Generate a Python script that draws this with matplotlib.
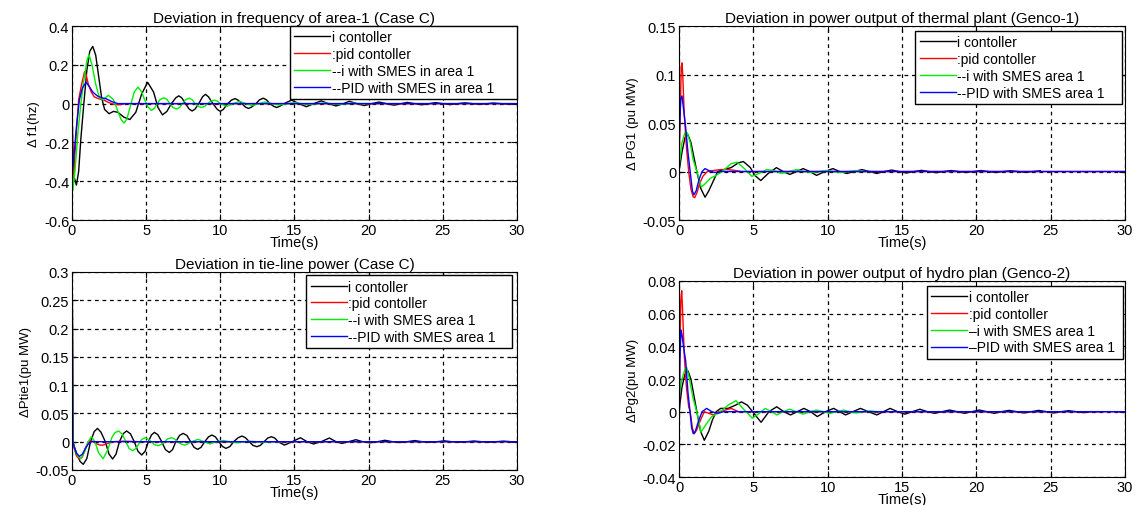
import matplotlib
matplotlib.use("Agg")
import matplotlib.pyplot as plt
from matplotlib.ticker import FormatStrFormatter

plt.rcParams['font.family'] = ['Liberation Sans', 'DejaVu Sans']

# ---- data: (time s, value) ----
# Deviation in frequency of area-1
f1_i = [(0, 0), (0.05, -0.2), (0.15, -0.38), (0.3, -0.42), (0.45, -0.35), (0.6, -0.18),
        (0.8, 0.0), (1.0, 0.17), (1.2, 0.27), (1.4, 0.295), (1.6, 0.25), (1.8, 0.14),
        (2.0, 0.03), (2.2, -0.03), (2.5, -0.052), (2.8, -0.04), (3.1, -0.045), (3.5, -0.07),
        (3.9, -0.082), (4.3, -0.045), (4.7, 0.05), (5.1, 0.11), (5.5, 0.06), (5.8, -0.02),
        (6.1, -0.058), (6.4, -0.04), (6.7, 0.0), (7.0, 0.03), (7.2, 0.04), (7.4, 0.03),
        (7.65, 0.0), (7.9, -0.028), (8.1, -0.038), (8.3, -0.028), (8.55, 0.0), (8.8, 0.035),
        (9.0, 0.048), (9.2, 0.035), (9.5, 0.0), (9.8, -0.03), (10.0, -0.04), (10.2, -0.03),
        (10.5, 0.0), (10.75, 0.018), (11.0, 0.026), (11.2, 0.018), (11.45, 0.0),
        (11.7, -0.018), (11.9, -0.025), (12.1, -0.018), (12.4, 0.0), (12.65, 0.02),
        (12.9, 0.028), (13.1, 0.02), (13.35, 0.0), (13.6, -0.014), (13.8, -0.02),
        (14.0, -0.014), (14.3, 0.0), (14.8, 0.018), (15.3, 0.0), (15.8, -0.016), (16.3, 0.0),
        (16.8, 0.014), (17.3, 0.0), (17.8, -0.012), (18.3, 0.0), (18.7, 0.012), (19.2, 0.0),
        (19.7, -0.01), (20.2, 0.0), (20.7, 0.008), (21.2, 0.0), (21.7, -0.008), (22.2, 0.0),
        (22.6, 0.006), (23.1, 0.0), (23.6, -0.006), (24.1, 0.0), (24.5, 0.005), (25.0, 0.0),
        (25.5, -0.005), (26.0, 0.0), (26.5, 0.004), (27.0, 0.0), (27.5, -0.004), (28.0, 0.0),
        (28.4, 0.003), (28.9, 0.0), (29.4, -0.003), (30, 0.0)]
f1_pid = [(0, 0), (0.08, -0.42), (0.25, -0.2), (0.45, 0.02), (0.65, 0.1), (0.85, 0.165),
          (0.95, 0.15), (1.1, 0.1), (1.3, 0.06), (1.5, 0.035), (1.8, 0.025), (2.1, 0.02),
          (2.5, 0.005), (2.9, -0.005), (3.3, -0.005), (3.6, 0.0), (30, 0.0)]
f1_i_smes = [(0, 0), (0.05, -0.45), (0.2, -0.35), (0.4, -0.15), (0.6, 0.0), (0.8, 0.12),
             (1.0, 0.22), (1.15, 0.252), (1.35, 0.2), (1.6, 0.1), (1.85, 0.03), (2.1, 0.02),
             (2.45, 0.043), (2.8, 0.02), (3.1, -0.04), (3.3, -0.08), (3.5, -0.1), (3.7, -0.08),
             (3.95, -0.01), (4.2, 0.06), (4.45, 0.085), (4.7, 0.06), (4.9, 0.02),
             (5.1, -0.015), (5.35, -0.035), (5.55, -0.025), (5.75, 0.0), (5.95, 0.022),
             (6.2, 0.03), (6.4, 0.022), (6.6, 0.0), (6.8, -0.02), (7.05, -0.028), (7.25, -0.02),
             (7.45, 0.0), (7.65, 0.02), (7.9, 0.028), (8.1, 0.02), (8.3, 0.0), (8.5, -0.014),
             (8.75, -0.02), (8.95, -0.014), (9.15, 0.0), (9.35, 0.013), (9.6, 0.018),
             (9.8, 0.013), (10.0, 0.0), (10.45, -0.014), (10.85, 0.0), (11.3, 0.012),
             (11.7, 0.0), (12.15, -0.01), (12.6, 0.0), (13.0, 0.008), (13.5, 0.0),
             (14.0, -0.007), (14.5, 0.0), (15.0, 0.005), (15.5, 0.0), (16.0, -0.004),
             (16.5, 0.0), (17.0, 0.003), (17.5, 0.0), (18.0, -0.003), (18.5, 0.0),
             (19.0, 0.002), (19.5, 0.0), (20.0, 0.0)]
f1_pid_smes = [(0, 0), (0.01, -0.36), (0.1, -0.3), (0.3, -0.12), (0.5, 0.02), (0.7, 0.08),
               (0.95, 0.11), (1.15, 0.09), (1.4, 0.06), (1.7, 0.04), (2.0, 0.03), (2.3, 0.025),
               (2.7, 0.01), (3.1, 0.0), (30, 0.0)]

# Deviation in power output of thermal plant (Genco-1)
pg1_i = [(0, 0), (0.2, 0.02), (0.4, 0.035), (0.6, 0.038), (0.8, 0.03), (1.0, 0.015), (1.2, 0.0),
         (1.45, -0.017), (1.75, -0.0265), (2.0, -0.02), (2.3, -0.01), (2.6, 0.0), (3.0, 0.002),
         (3.5, 0.004), (4.0, 0.009), (4.33, 0.0103), (4.8, 0.004), (5.1, -0.004), (5.5, -0.0093),
         (6.0, -0.002), (6.55, 0.004), (7.0, 0.0), (7.45, -0.003), (7.9, 0.0), (8.35, 0.003),
         (8.8, 0.0), (9.25, -0.004), (9.8, 0.0), (10.35, 0.003), (10.8, 0.0), (11.3, -0.002),
         (11.8, 0.0), (12.3, 0.002), (12.8, 0.0), (13.3, -0.002), (13.8, 0.0), (14.3, 0.0015),
         (14.8, 0.0), (15.3, -0.0015), (15.8, 0.0), (16.3, 0.0012), (16.8, 0.0), (17.3, -0.0012),
         (17.8, 0.0), (18.3, 0.001), (18.8, 0.0), (19.3, -0.001), (19.8, 0.0), (20.3, 0.001),
         (20.8, 0.0), (21.3, -0.001), (21.8, 0.0), (22.3, 0.0008), (22.8, 0.0), (23.3, -0.0008),
         (23.8, 0.0), (24.3, 0.0008)]
pg1_pid = [(0, 0), (0.08, 0.06), (0.15, 0.108), (0.2, 0.112), (0.25, 0.1), (0.35, 0.06),
           (0.5, 0.025), (0.65, 0.0), (0.8, -0.018), (0.95, -0.026), (1.05, -0.027),
           (1.2, -0.022), (1.4, -0.012), (1.6, -0.005), (1.9, 0.0), (2.3, 0.001), (2.8, 0.002),
           (3.3, 0.002), (3.8, 0.001), (4.2, 0.0), (30, 0.0)]
pg1_i_smes = [(0, 0.005), (0.2, 0.03), (0.4, 0.04), (0.55, 0.04), (0.75, 0.03), (0.95, 0.012),
              (1.2, 0.0), (1.5, -0.016), (1.8, -0.012), (2.1, -0.007), (2.5, -0.004),
              (2.9, 0.0), (3.2, 0.004), (3.5, 0.008), (3.9, 0.0096), (4.4, 0.003),
              (4.9, -0.005), (5.4, -0.002), (5.9, 0.002), (6.4, 0.001), (6.9, -0.002),
              (7.4, 0.0), (7.9, 0.002), (8.4, 0.0), (8.9, -0.001), (9.4, 0.0), (9.9, 0.001),
              (10.4, 0.0), (10.9, -0.001), (11.4, 0.0), (11.9, 0.001), (12.4, 0.0), (13.0, 0.0)]
pg1_pid_smes = [(0, 0.02), (0.05, 0.05), (0.12, 0.075), (0.2, 0.078), (0.3, 0.065),
                (0.45, 0.045), (0.6, 0.02), (0.75, 0.0), (0.9, -0.02), (1.0, -0.024),
                (1.15, -0.02), (1.35, -0.008), (1.55, 0.0), (1.75, 0.003), (2.0, 0.001),
                (2.4, -0.001), (2.8, 0.0), (30, 0.0)]

# Deviation in tie-line power
ptie_i = [(0, 0), (0.02, 0.27), (0.06, 0.0), (0.3, -0.02), (0.55, -0.035), (0.76, -0.04),
          (1.0, -0.03), (1.25, 0.0), (1.5, 0.018), (1.72, 0.0235), (1.95, 0.017), (2.25, 0.0),
          (2.5, -0.022), (2.74, -0.0306), (2.97, -0.022), (3.2, 0.0), (3.45, 0.014),
          (3.68, 0.019), (3.94, 0.014), (4.2, 0.0), (4.45, -0.017), (4.7, -0.0235),
          (4.93, -0.017), (5.15, 0.0), (5.36, 0.012), (5.56, 0.0165), (5.8, 0.012), (6.05, 0.0),
          (6.3, -0.014), (6.56, -0.019), (6.78, -0.014), (7.0, 0.0), (7.25, 0.011),
          (7.49, 0.0147), (7.75, 0.011), (8.0, 0.0), (8.23, -0.01), (8.47, -0.0135),
          (8.7, -0.01), (8.95, 0.0), (9.2, 0.0085), (9.43, 0.0118), (9.67, 0.0085), (9.9, 0.0),
          (10.15, -0.0085), (10.38, -0.0118), (10.65, -0.0085), (10.9, 0.0), (11.2, 0.007),
          (11.46, 0.01), (11.7, 0.007), (11.95, 0.0), (12.2, -0.0065), (12.46, -0.0088),
          (12.7, -0.0065), (12.95, 0.0), (13.2, 0.0065), (13.44, 0.0088), (13.67, 0.0065),
          (13.9, 0.0), (14.32, -0.006), (14.85, 0.0), (15.4, 0.007), (15.85, 0.0),
          (16.28, -0.004), (16.8, 0.0), (17.35, 0.0065), (17.8, 0.0), (18.19, -0.003),
          (18.65, 0.0), (19.14, 0.0035), (19.6, 0.0), (20.1, -0.002), (20.6, 0.0),
          (21.1, 0.0025), (21.6, 0.0), (22.1, -0.0015), (22.6, 0.0), (23.1, 0.002), (23.6, 0.0),
          (24.1, -0.0012), (24.6, 0.0), (25.1, 0.0015), (25.6, 0.0), (26.1, -0.001), (26.6, 0.0),
          (27.1, 0.0012), (27.6, 0.0), (28.1, -0.001), (28.6, 0.0), (29.1, 0.001), (29.6, 0.0),
          (30, 0.0)]
ptie_pid = [(0, 0), (0.02, 0.28), (0.06, 0.0), (0.15, -0.012), (0.3, -0.025), (0.5, -0.031),
            (0.7, -0.027), (0.9, -0.012), (1.1, 0.0), (1.3, 0.002), (1.6, -0.003), (1.9, -0.006),
            (2.1, -0.006), (2.4, -0.003), (2.8, 0.0), (3.5, 0.001), (4.5, 0.0), (30, 0.0)]
ptie_i_smes = [(0, 0), (0.02, 0.27), (0.06, 0.0), (0.2, -0.015), (0.4, -0.026), (0.6, -0.03),
               (0.85, -0.018), (1.1, 0.0), (1.3, 0.009), (1.55, 0.0), (1.8, -0.02), (2.1, -0.03),
               (2.4, -0.015), (2.7, 0.008), (2.9, 0.016), (3.15, 0.019), (3.4, 0.013),
               (3.6, 0.002), (3.85, -0.012), (4.1, -0.016), (4.3, -0.012), (4.5, -0.004),
               (4.7, 0.004), (4.95, 0.007), (5.15, 0.004), (5.35, 0.0), (5.55, -0.005),
               (5.8, -0.007), (6.0, -0.005), (6.25, 0.0), (6.45, 0.005), (6.7, 0.007),
               (6.9, 0.005), (7.15, 0.0), (7.35, -0.004), (7.6, -0.006), (7.8, -0.004),
               (8.05, 0.0), (8.5, 0.004), (8.9, 0.0), (9.3, -0.004), (9.75, 0.0), (10.2, 0.002),
               (10.65, 0.0), (11.1, -0.002), (11.55, 0.0), (12.0, 0.001), (12.45, 0.0),
               (12.9, -0.001), (13.4, 0.0), (14.0, 0.0)]
ptie_pid_smes = [(0, 0), (0.02, 0.285), (0.06, 0.0), (0.15, -0.01), (0.3, -0.02), (0.5, -0.026),
                 (0.7, -0.022), (0.9, -0.012), (1.1, -0.004), (1.3, 0.0), (30, 0.0)]

# Deviation in power output of hydro plan (Genco-2)
pg2_i = [(0, 0), (0.2, 0.015), (0.4, 0.023), (0.6, 0.025), (0.8, 0.02), (1.0, 0.01), (1.2, 0.0),
         (1.45, -0.012), (1.7, -0.0175), (2.0, -0.012), (2.25, -0.005), (2.5, 0.0), (2.8, 0.002),
         (3.3, 0.002), (3.8, 0.004), (4.2, 0.006), (4.6, 0.004), (4.95, 0.0), (5.52, -0.0065),
         (6.05, 0.0), (6.57, 0.003), (7.05, 0.0), (7.5, -0.002), (7.95, 0.0), (8.4, 0.002),
         (8.85, 0.0), (9.3, -0.003), (9.85, 0.0), (10.4, 0.002), (10.8, 0.0), (11.2, -0.002),
         (11.7, 0.0), (12.2, 0.002), (12.75, 0.0), (13.3, -0.002), (13.75, 0.0), (14.2, 0.002),
         (14.7, 0.0), (15.2, -0.0015), (15.7, 0.0), (16.2, 0.0015), (16.7, 0.0), (17.2, -0.001),
         (17.7, 0.0), (18.2, 0.001), (18.7, 0.0), (19.2, -0.001), (19.7, 0.0), (20.2, 0.001),
         (20.7, 0.0), (21.2, -0.001), (21.7, 0.0), (22.2, 0.0008), (22.7, 0.0), (23.2, -0.0008),
         (23.7, 0.0), (24.2, 0.0008), (24.7, 0.0), (25.2, -0.0008), (25.7, 0.0), (26.2, 0.0006),
         (26.7, 0.0), (27.2, -0.0006), (27.7, 0.0), (28.2, 0.0)]
pg2_pid = [(0, -0.033), (0.05, 0.03), (0.12, 0.068), (0.18, 0.074), (0.25, 0.06), (0.35, 0.035),
           (0.5, 0.015), (0.65, 0.003), (0.75, 0.0), (0.9, -0.01), (1.03, -0.0135),
           (1.2, -0.011), (1.45, -0.005), (1.7, 0.0), (2.0, -0.001), (2.3, -0.002), (2.7, 0.0),
           (3.1, 0.001), (3.5, 0.002), (4.0, 0.0), (30, 0.0)]
pg2_i_smes = [(0, 0.01), (0.2, 0.02), (0.4, 0.026), (0.52, 0.027), (0.7, 0.02), (0.95, 0.008),
              (1.19, 0.0), (1.48, -0.0125), (1.8, -0.008), (2.2, -0.003), (2.8, 0.0),
              (3.3, 0.004), (3.83, 0.0067), (4.4, 0.001), (4.93, -0.004), (5.4, -0.001),
              (5.8, 0.002), (6.2, 0.0), (6.6, -0.002), (7.0, 0.0), (7.45, 0.0015), (7.9, 0.0),
              (8.35, -0.0015), (8.8, 0.0), (9.25, 0.001), (9.7, 0.0), (10.15, -0.001),
              (10.6, 0.0), (11.05, 0.001), (11.5, 0.0), (11.95, -0.0008), (12.4, 0.0),
              (12.85, 0.0005), (13.3, 0.0)]
pg2_pid_smes = [(0, -0.02), (0.05, 0.03), (0.13, 0.05), (0.2, 0.047), (0.3, 0.04), (0.45, 0.031),
                (0.6, 0.012), (0.74, 0.0), (0.85, -0.01), (0.96, -0.0135), (1.1, -0.012),
                (1.3, -0.006), (1.55, 0.0), (1.86, 0.002), (2.2, 0.0), (2.6, -0.001),
                (3.0, 0.0), (30, 0.0)]

titles = ["Deviation in frequency of area-1 (Case C)",
          "Deviation in power output of thermal plant (Genco-1)",
          "Deviation in tie-line power (Case C)",
          "Deviation in power output of hydro plan (Genco-2)"]
ylabels = ["\u0394 f1(hz)", "\u0394 PG1 (pu MW)", "\u0394Ptie1(pu MW)", "\u0394Pg2(pu MW)"]
labels_a = ["i contoller", ":pid contoller", "--i with SMES in area 1", "--PID with SMES in area 1"]
labels_b = ["i contoller", ":pid contoller", "--i with SMES area 1", "--PID with SMES area 1"]
labels_c = ["i contoller", ":pid contoller", "\u2013i with SMES area 1", "\u2013PID with SMES area 1"]
yticks = [[-0.6, -0.4, -0.2, 0, 0.2, 0.4],
          [-0.05, 0, 0.05, 0.1, 0.15],
          [-0.05, 0, 0.05, 0.1, 0.15, 0.2, 0.25, 0.3],
          [-0.04, -0.02, 0, 0.02, 0.04, 0.06, 0.08]]
xticks = [0, 5, 10, 15, 20, 25, 30]
colors = ['black', 'red', '#00ee00', 'blue']

panels = [
    ([f1_i, f1_pid, f1_i_smes, f1_pid_smes], labels_a),
    ([pg1_i, pg1_pid, pg1_i_smes, pg1_pid_smes], labels_b),
    ([ptie_i, ptie_pid, ptie_i_smes, ptie_pid_smes], labels_b),
    ([pg2_i, pg2_pid, pg2_i_smes, pg2_pid_smes], labels_c),
]

# axes rectangles in figure fractions
rects = [[0.0633, 0.5632, 0.3914, 0.3834],
         [0.5972, 0.5632, 0.3923, 0.3834],
         [0.0633, 0.0692, 0.3914, 0.3913],
         [0.5972, 0.0553, 0.3923, 0.3874]]
# legend boxes (x0, y0, width, height) in axes fractions
leg_boxes = [(0.49, 0.63, 0.51, 0.37),
             (0.53, 0.61, 0.464, 0.364),
             (0.527, 0.62, 0.461, 0.363),
             (0.556, 0.64, 0.44, 0.335)]

fig = plt.figure(figsize=(11.37, 5.06), dpi=100)

for k in range(4):
    ax = fig.add_axes(rects[k])
    series, labs = panels[k]
    for s, c, lab in zip(series, colors, labs):
        ts = [p[0] for p in s]
        ys = [p[1] for p in s]
        ax.plot(ts, ys, color=c, lw=1.0, label=lab)
    ax.set_xlim(0, 30)
    ax.set_ylim(yticks[k][0], yticks[k][-1])
    ax.set_xticks(xticks)
    ax.set_yticks(yticks[k])
    ax.yaxis.set_major_formatter(FormatStrFormatter('%g'))
    ax.grid(True, color='black', linestyle=(0, (3, 3)), lw=0.9)
    ax.tick_params(direction='in', top=True, right=True, labelsize=10.5, length=4, pad=2)
    for sp in ax.spines.values():
        sp.set_linewidth(0.8)
    ax.set_title(titles[k], fontsize=11, pad=3)
    ax.set_xlabel("Time(s)", fontsize=10.5, labelpad=-1)
    ax.set_ylabel(ylabels[k], fontsize=9.5, labelpad=3)
    leg = ax.legend(loc='upper left', bbox_to_anchor=leg_boxes[k], mode='expand',
                    fontsize=10, frameon=True, fancybox=False, framealpha=1,
                    edgecolor='black', borderaxespad=0, handlelength=2.6,
                    handletextpad=0.1, labelspacing=0.2, borderpad=0.3)
    leg.get_frame().set_linewidth(1.0)

fig.savefig("out.png", dpi=100)
